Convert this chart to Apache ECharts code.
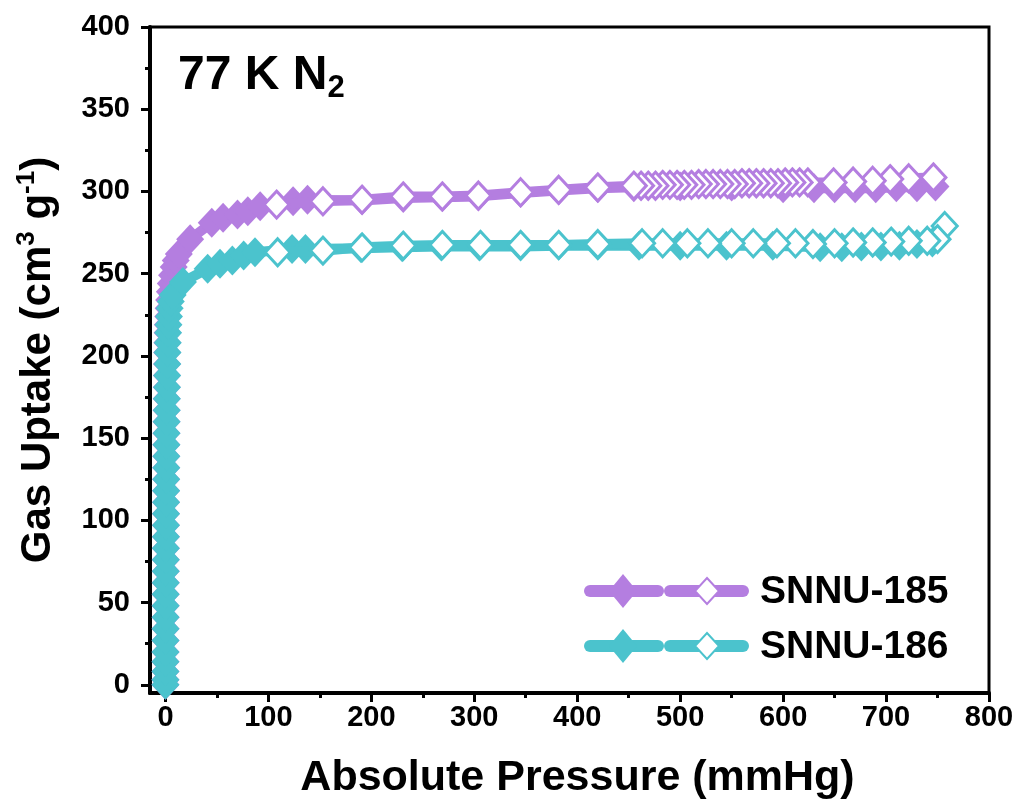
<!DOCTYPE html>
<html>
<head>
<meta charset="utf-8">
<title>77 K N2 isotherms</title>
<script src="https://cdn.jsdelivr.net/npm/echarts@6/dist/echarts.min.js"></script>
<style>
  html, body { margin: 0; padding: 0; background: #fff; }
  #chart { width: 1022px; height: 805px; }
</style>
</head>
<body>
<div id="chart"></div>
<script>
// Axis tick positions
const xTicks = [0, 100, 200, 300, 400, 500, 600, 700, 800];
const xMinorTicks = [50, 150, 250, 350, 450, 550, 650, 750];
const yTicks = [0, 50, 100, 150, 200, 250, 300, 350, 400];
const yMinorTicks = [25, 75, 125, 175, 225, 275, 325, 375];

// SNNU-185 adsorption branch: [pressure mmHg, uptake cm3/g]
const snnu185Ads = [
  [0.01, 0], [0.02, 3], [0.03, 8], [0.04, 14], [0.06, 20], [0.08, 27], [0.1, 34],
  [0.13, 41], [0.16, 48], [0.19, 55], [0.23, 62], [0.27, 69], [0.31, 76], [0.35, 83],
  [0.4, 90], [0.44, 97], [0.49, 104], [0.55, 111], [0.6, 118], [0.66, 125], [0.72, 132],
  [0.79, 139], [0.86, 146], [0.94, 153], [1.02, 160], [1.1, 167], [1.2, 174], [1.3, 181],
  [1.42, 188], [1.55, 195], [1.7, 202], [1.88, 208], [2.1, 214], [2.35, 219], [2.7, 224],
  [3.1, 229], [3.6, 234], [4.3, 239], [5.2, 244], [6.4, 249], [8, 254], [10, 258], [13, 262],
  [24, 271], [45, 281], [56, 284], [70, 286], [80, 288], [92, 291], [124, 294], [138, 295],
  [191, 294.5], [231, 296], [269, 296.5], [304, 297], [345, 299], [382, 300.5], [420, 302],
  [455, 302.5], [500, 303], [550, 303], [600, 302], [630, 302], [650, 302], [670, 302],
  [690, 302], [710, 302.5], [730, 302.5], [748, 303]
];

// SNNU-185 desorption branch
const snnu185Des = [
  [746, 308.5], [722, 308], [704, 307.5], [687, 306.5], [668, 306], [649, 305.5], [624, 305.5],
  [616, 305.5], [609, 305.5], [602, 305.5], [595, 305], [588, 305], [581, 305], [574, 305],
  [567, 305], [560, 305], [553, 304.5], [546, 304.5], [539, 304.5], [532, 304.5], [525, 304.5],
  [518, 304.5], [511, 304], [504, 304], [497, 304], [490, 304], [483, 304], [476, 303.5],
  [469, 303.5], [462, 303.5], [455, 303.5], [420, 302.5], [382, 301], [345, 299.5],
  [304, 297.5], [269, 297], [231, 297], [191, 295], [153, 294], [108, 292]
];

// SNNU-186 adsorption branch
const snnu186Ads = [
  [0.01, 0], [0.02, 3], [0.03, 8], [0.05, 14], [0.07, 20], [0.09, 27], [0.12, 34],
  [0.15, 41], [0.18, 48], [0.22, 55], [0.26, 62], [0.3, 69], [0.35, 76], [0.4, 83],
  [0.45, 90], [0.5, 97], [0.56, 104], [0.62, 111], [0.68, 118], [0.75, 125], [0.82, 132],
  [0.9, 139], [0.98, 146], [1.07, 153], [1.16, 160], [1.26, 167], [1.37, 174], [1.5, 181],
  [1.64, 188], [1.8, 195], [2.0, 202], [2.25, 208], [2.55, 214], [2.9, 219], [3.4, 224],
  [4.1, 229], [5.2, 233], [7, 237], [17, 245], [41, 253], [53, 256], [65, 258], [76, 261],
  [87, 263], [123, 265], [136, 265], [190, 265.5], [230, 266], [268, 266.5], [305, 266.5],
  [345, 266.5], [382, 267], [420, 267], [460, 267], [500, 267], [545, 267], [590, 267],
  [636, 266], [657, 266], [676, 266.5], [695, 266.5], [713, 267], [730, 268], [745, 269]
];

// SNNU-186 desorption branch
const snnu186Des = [
  [757, 279], [750, 271], [740, 270], [722, 270], [705, 269.5], [687, 269], [668, 269],
  [650, 268.5], [629, 268], [612, 268.5], [594, 268.5], [571, 268.5], [550, 268.5],
  [527, 268.5], [507, 268.5], [483, 268.5], [463, 268.5], [420, 268], [382, 267.5],
  [345, 267.5], [306, 267.5], [269, 267.5], [231, 267], [191, 266], [153, 264], [109, 263]
];

const legendNames = ['SNNU-185', 'SNNU-186'];

const FONT = '"Liberation Sans", Arial, Helvetica, sans-serif';
const PURPLE = '#b47ee0';
const TEAL = '#4bc3cd';
const colors = [PURPLE, TEAL];

const X_MIN = -15, X_MAX = 800, Y_MIN = -5, Y_MAX = 400;
const FILLED_MARK = [28, 30];
const HOLLOW_MARK = [25, 27];

const tickLabel = { fontSize: 29, fontWeight: 'bold', fontFamily: FONT, color: '#000' };

function filledSeries(name, data, color, z) {
  return {
    type: 'line', name, data, z,
    symbol: 'diamond', symbolSize: FILLED_MARK,
    lineStyle: { color, width: 10 },
    itemStyle: { color },
    emphasis: { disabled: true },
    animation: false
  };
}
function hollowSeries(name, data, color, z) {
  return {
    type: 'line', name, data, z,
    symbol: 'diamond', symbolSize: HOLLOW_MARK,
    lineStyle: { color, width: 10 },
    itemStyle: { color: '#fff', borderColor: color, borderWidth: 3 },
    emphasis: { disabled: true },
    animation: false
  };
}

// Hand-built legend: filled marker segment, hollow marker segment, label
function legendRow(cy, color, label) {
  const diamond = (cx, w, h) => [[cx, cy - h], [cx + w, cy], [cx, cy + h], [cx - w, cy]];
  return [
    { type: 'line', shape: { x1: 590, y1: cy, x2: 658, y2: cy },
      style: { stroke: color, lineWidth: 12, lineCap: 'round' } },
    { type: 'polygon', shape: { points: diamond(623, 14, 17) }, style: { fill: color } },
    { type: 'line', shape: { x1: 670, y1: cy, x2: 743, y2: cy },
      style: { stroke: color, lineWidth: 12, lineCap: 'round' } },
    { type: 'polygon', shape: { points: diamond(707, 12, 13) },
      style: { fill: '#fff', stroke: color, lineWidth: 2 } },
    { type: 'text', x: 760, y: cy + 1, style: { text: label, font: 'bold 39px ' + FONT,
      fill: '#000', verticalAlign: 'middle', align: 'left' } }
  ];
}

const chart = echarts.init(document.getElementById('chart'), null, { renderer: 'canvas' });

chart.setOption({
  backgroundColor: '#fff',
  animation: false,
  grid: {
    left: 150, right: 33, top: 27, bottom: 110,
    show: true, borderColor: '#000', borderWidth: 3, backgroundColor: 'transparent'
  },
  xAxis: [
    {
      type: 'value', min: X_MIN, max: X_MAX, position: 'bottom',
      axisLine: { show: true, onZero: false, lineStyle: { color: '#000', width: 4 } },
      axisTick: { show: true, length: 9, lineStyle: { color: '#000', width: 3 }, customValues: xTicks },
      axisLabel: Object.assign({ customValues: xTicks, margin: 10 }, tickLabel),
      splitLine: { show: false },
      name: 'Absolute Pressure (mmHg)', nameLocation: 'middle', nameGap: 64,
      nameTextStyle: { fontSize: 43, fontWeight: 'bold', fontFamily: FONT, color: '#000', padding: [0, 0, 0, 16] }
    },
    {
      type: 'value', min: X_MIN, max: X_MAX, position: 'bottom',
      axisLine: { show: false, onZero: false },
      axisTick: { show: true, length: 5, lineStyle: { color: '#000', width: 3 }, customValues: xMinorTicks },
      axisLabel: { show: false },
      splitLine: { show: false }
    }
  ],
  yAxis: [
    {
      type: 'value', min: Y_MIN, max: Y_MAX, position: 'left',
      axisLine: { show: true, onZero: false, lineStyle: { color: '#000', width: 4 } },
      axisTick: { show: true, length: 9, lineStyle: { color: '#000', width: 3 }, customValues: yTicks },
      axisLabel: Object.assign({ customValues: yTicks, margin: 20 }, tickLabel),
      splitLine: { show: false },
      name: '{b|Gas Uptake (cm}{s|3}{b| g}{s|-1}{b|)}',
      nameLocation: 'middle', nameGap: 88,
      nameTextStyle: {
        color: '#000',
        rich: {
          b: { fontSize: 42, lineHeight: 48, fontWeight: 'bold', fontFamily: FONT, color: '#000' },
          s: { fontSize: 26, lineHeight: 26, fontWeight: 'bold', fontFamily: FONT, color: '#000', verticalAlign: 'top' }
        }
      }
    },
    {
      type: 'value', min: Y_MIN, max: Y_MAX, position: 'left',
      axisLine: { show: false, onZero: false },
      axisTick: { show: true, length: 5, lineStyle: { color: '#000', width: 3 }, customValues: yMinorTicks },
      axisLabel: { show: false },
      splitLine: { show: false }
    }
  ],
  graphic: [
    {
      type: 'text', x: 178, y: 48,
      style: {
        text: '{b|77 K N}{sub|2}',
        rich: {
          b: { fontSize: 48, lineHeight: 56, fontWeight: 'bold', fontFamily: FONT, fill: '#000' },
          sub: { fontSize: 31, lineHeight: 31, fontWeight: 'bold', fontFamily: FONT, fill: '#000', verticalAlign: 'bottom' }
        },
        verticalAlign: 'top'
      },
      z: 100
    },
    ...legendRow(591, colors[0], legendNames[0]),
    ...legendRow(646, colors[1], legendNames[1])
  ],
  series: [
    filledSeries('SNNU-185 ads', snnu185Ads, PURPLE, 2),
    hollowSeries('SNNU-185 des', snnu185Des, PURPLE, 3),
    filledSeries('SNNU-186 ads', snnu186Ads, TEAL, 4),
    hollowSeries('SNNU-186 des', snnu186Des, TEAL, 5)
  ]
});
</script>
</body>
</html>
